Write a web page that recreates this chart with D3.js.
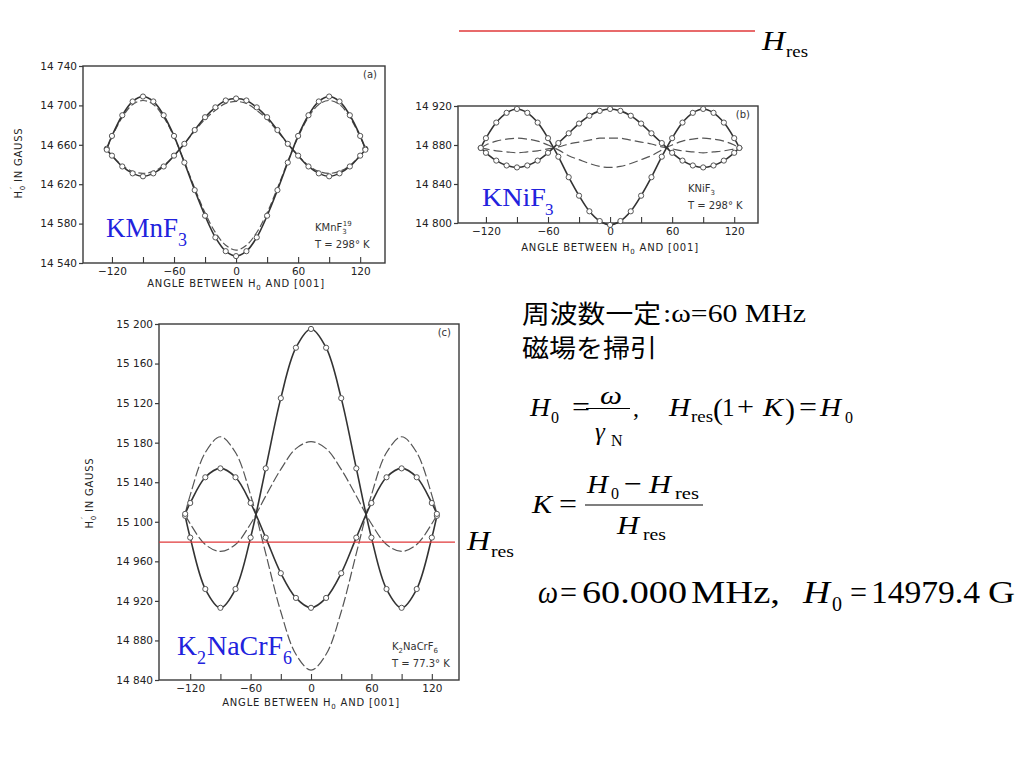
<!DOCTYPE html>
<html><head><meta charset="utf-8">
<script src="https://cdn.jsdelivr.net/npm/d3@7"></script>
<style>
html,body{margin:0;padding:0;background:#fff;}
svg{display:block;}
</style></head>
<body>
<svg id="c" width="1024" height="768"></svg>
<script>
// ---------- DATA ----------
const anglesAB = [-125,-120,-110,-100,-90,-80,-70,-60,-50,-40,-30,-20,-10,0,10,20,30,40,50,60,70,80,90,100,110,120,125];
const kmnSolidA = [14656,14669,14690,14704,14709,14704,14690,14669,14642,14614,14588,14566,14552,14547,14552,14566,14588,14614,14642,14669,14690,14704,14709,14704,14690,14669,14656];
const kmnSolidB = [14655,14649,14638,14631,14628,14631,14638,14649,14661,14675,14688,14698,14705,14707,14705,14698,14688,14675,14661,14649,14638,14631,14628,14631,14638,14649,14655];
const kmnDashA  = [14656,14668,14688,14701,14705,14701,14688,14668,14643,14616,14591,14571,14558,14553,14558,14571,14591,14616,14643,14668,14688,14701,14705,14701,14688,14668,14656];
const kmnDashB  = [14655,14649,14639,14633,14631,14633,14639,14649,14661,14674,14686,14695,14702,14704,14702,14695,14686,14674,14661,14649,14639,14633,14631,14633,14639,14649,14655];

const kniSolidA = [14877,14887,14903,14913,14917,14913,14903,14887,14868,14847,14828,14812,14802,14798,14802,14812,14828,14847,14868,14887,14903,14913,14917,14913,14903,14887,14877];
const kniSolidB = [14877,14872,14864,14859,14857,14859,14864,14872,14882,14892,14902,14910,14915,14917,14915,14910,14902,14892,14882,14872,14864,14859,14857,14859,14864,14872,14877];
const kniDashA  = [14877,14880,14884,14886,14887,14886,14884,14880,14875,14869,14865,14861,14858,14857,14858,14861,14865,14869,14875,14880,14884,14886,14887,14886,14884,14880,14877];
const kniDashB  = [14877,14876,14874,14873,14872,14873,14874,14876,14878,14881,14883,14885,14887,14887,14887,14885,14883,14881,14878,14876,14874,14873,14872,14873,14874,14876,14877];

const anglesC = [-125,-120,-105,-90,-75,-60,-45,-30,-15,0,15,30,45,60,75,90,105,120,125];
const crSolidA = [15006,14984,14932,14913,14932,14984,15054,15125,15176,15195,15176,15125,15054,14984,14932,14913,14932,14984,15006];
const crSolidB = [15008,15019,15045,15054,15045,15019,14984,14948,14923,14913,14923,14948,14984,15019,15045,15054,15045,15019,15008];
const crDashA  = [15008,15027,15070,15086,15070,15027,14968,14909,14866,14850,14866,14909,14968,15027,15070,15086,15070,15027,15008];
const crDashB  = [15007,14998,14977,14970,14977,14998,15026,15053,15074,15081,15074,15053,15026,14998,14977,14970,14977,14998,15007];

const xTickLabels = [-120,-60,0,60,120];
const xMinorTicks = [-120,-90,-60,-30,0,30,60,90,120];
const yTicksA = [14540,14580,14620,14660,14700,14740];
const yLabelsA = ["14 540","14 580","14 620","14 660","14 700","14 740"];
const yTicksB = [14800,14840,14880,14920];
const yLabelsB = ["14 800","14 840","14 880","14 920"];
const yTicksC = [14840,14880,14920,14960,15000,15040,15080,15120,15160,15200];
const yLabelsC = ["14 840","14 880","14 920","14 960","15 100","15 140","15 180","15 120","15 160","15 200"];
const H0value = 14979.4;

// ---------- DRAW ----------
const svg = d3.select("#c");
const ink = "#3a3a3a";
const sansF = "'DejaVu Sans', sans-serif";
const serifF = "'Liberation Serif','Times New Roman', serif";
const blue = "#2222dd";
const red = "#e0393a";

function panel(cfg){
  const x = d3.scaleLinear().domain(cfg.xd).range([cfg.l, cfg.r]);
  const y = d3.scaleLinear().domain(cfg.yd).range([cfg.b, cfg.t]);
  const g = svg.append("g");
  g.append("rect").attr("x",cfg.l).attr("y",cfg.t).attr("width",cfg.r-cfg.l).attr("height",cfg.b-cfg.t)
    .attr("fill","none").attr("stroke",ink).attr("stroke-width",1.4);
  const ya = d3.axisLeft(y).tickValues(cfg.yt).tickSize(4).tickPadding(2)
     .tickFormat((d,i)=>cfg.yl[i]);
  const yg = g.append("g").attr("transform",`translate(${cfg.l},0)`).call(ya);
  yg.select(".domain").remove();
  yg.selectAll("line").attr("stroke",ink).attr("stroke-width",1.2);
  yg.selectAll("text").attr("font-family",sansF).attr("font-size",10.5).attr("fill","#222");
  const xa = d3.axisTop(x).tickValues(xMinorTicks).tickSize(6).tickFormat("");
  const xg = g.append("g").attr("transform",`translate(0,${cfg.b})`).call(xa);
  xg.select(".domain").remove();
  xg.selectAll("line").attr("stroke",ink).attr("stroke-width",1.1);
  const xl = d3.axisBottom(x).tickValues(xTickLabels).tickSize(0).tickPadding(cfg.xpad)
     .tickFormat(d=> d<0 ? "\u2212"+(-d) : ""+d);
  const xlg = g.append("g").attr("transform",`translate(0,${cfg.b})`).call(xl);
  xlg.select(".domain").remove();
  xlg.selectAll("text").attr("font-family",sansF).attr("font-size",10.5).attr("fill","#222");
  const t = g.append("text").attr("x",x(0)).attr("y",cfg.titleY).attr("text-anchor","middle")
    .attr("font-family",sansF).attr("font-size",10).attr("fill","#222").attr("letter-spacing",0.8);
  t.append("tspan").text("ANGLE BETWEEN H");
  t.append("tspan").attr("font-size",7).attr("dy",3).text("0");
  t.append("tspan").attr("dy",-3).text(" AND [001]");
  if(cfg.ytx){
    const yt = g.append("text").attr("transform",`translate(${cfg.ytx},${cfg.yty}) rotate(-90)`)
      .attr("text-anchor","middle").attr("font-family",sansF).attr("font-size",10).attr("fill","#222").attr("letter-spacing",0.8);
    yt.append("tspan").text("H");
    yt.append("tspan").attr("font-size",7).attr("dy",3).text("0");
    yt.append("tspan").attr("font-size",9).attr("dy",-8).attr("dx",-4).text("\u2032");
    yt.append("tspan").attr("dy",5).text(" IN GAUSS");
  }
  const line = d3.line().x(d=>x(d[0])).y(d=>y(d[1])).curve(d3.curveCatmullRom.alpha(0.5));
  cfg.dashed.forEach(s=>{
    g.append("path").attr("d",line(cfg.angles.map((a,i)=>[a,s[i]])))
      .attr("fill","none").attr("stroke","#555").attr("stroke-width",1.2).attr("stroke-dasharray",cfg.dash);
  });
  cfg.solid.forEach(s=>{
    g.append("path").attr("d",line(cfg.angles.map((a,i)=>[a,s[i]])))
      .attr("fill","none").attr("stroke","#333").attr("stroke-width",1.6);
  });
  cfg.solid.forEach(s=>{
    g.selectAll(null).data(cfg.angles.map((a,i)=>[a,s[i]])).enter().append("circle")
      .attr("cx",d=>x(d[0])).attr("cy",d=>y(d[1])).attr("r",2.6)
      .attr("fill","#fff").attr("stroke","#555").attr("stroke-width",1);
  });
  g.append("text").attr("x",cfg.r-8).attr("y",cfg.t+12).attr("text-anchor","end")
    .attr("font-family",sansF).attr("font-size",10).attr("fill","#333").text(cfg.letter);
  const n1 = g.append("text").attr("x",cfg.nx).attr("y",cfg.ny).attr("font-family",sansF).attr("font-size",10).attr("fill","#333");
  cfg.note(n1);
  g.append("text").attr("x",cfg.nx).attr("y",cfg.ny+17).attr("font-family",sansF).attr("font-size",10).attr("fill","#333")
    .text(cfg.temp);
  return {x,y,g};
}

panel({l:83,r:385,t:66,b:263,xd:[-148,144],yd:[14540,14740],yt:yTicksA,yl:yLabelsA,xpad:5,titleY:287,
  ytx:22,yty:163,angles:anglesAB,solid:[kmnSolidA,kmnSolidB],dashed:[kmnDashA,kmnDashB],dash:"7,3",
  letter:"(a)",nx:315,ny:231,temp:"T = 298\u00b0 K",
  note:t=>{t.append("tspan").text("KMnF");t.append("tspan").attr("font-size",7).attr("dy",3).text("3");
           t.append("tspan").attr("font-size",7).attr("dy",-8).attr("dx",-4).text("19");}});
panel({l:458,r:758,t:106,b:223,xd:[-147,143],yd:[14800,14920],yt:yTicksB,yl:yLabelsB,xpad:5,titleY:251,
  ytx:null,angles:anglesAB,solid:[kniSolidA,kniSolidB],dashed:[kniDashA,kniDashB],dash:"9,4",
  letter:"(b)",nx:688,ny:192,temp:"T = 298\u00b0 K",
  note:t=>{t.append("tspan").text("KNiF");t.append("tspan").attr("font-size",7).attr("dy",3).text("3");}});
const pc = panel({l:159,r:459,t:324,b:680,xd:[-151,147],yd:[14840,15200],yt:yTicksC,yl:yLabelsC,xpad:5,titleY:706,
  ytx:93,yty:493,angles:anglesC,solid:[crSolidA,crSolidB],dashed:[crDashA,crDashB],dash:"10,3",
  letter:"(c)",nx:392,ny:650,temp:"T = 77.3\u00b0 K",
  note:t=>{t.append("tspan").text("K");t.append("tspan").attr("font-size",7).attr("dy",3).text("2");
           t.append("tspan").attr("dy",-3).text("NaCrF");t.append("tspan").attr("font-size",7).attr("dy",3).text("6");}});

svg.append("line").attr("x1",pc.x(-151)).attr("x2",pc.x(143)).attr("y1",pc.y(H0value)).attr("y2",pc.y(H0value))
  .attr("stroke",red).attr("stroke-width",1.3);
svg.append("line").attr("x1",459).attr("x2",755).attr("y1",31).attr("y2",31).attr("stroke",red).attr("stroke-width",1.3);

function T(x,y,s,size,opt){
  opt = opt||{};
  const t = svg.append("text").attr("x",x).attr("y",y).attr("font-family",opt.fam||serifF).attr("font-size",size)
    .attr("font-style",opt.it?"italic":"normal").attr("text-anchor",opt.anchor||"start").attr("fill",opt.fill||"#000").text(s);
  if(opt.w) t.attr("textLength",opt.w).attr("lengthAdjust","spacingAndGlyphs");
  return t;
}
// H_res labels
T(762,50,"H",28,{it:true,w:23}); T(786,57,"res",17,{w:22});
T(467,550,"H",28,{it:true,w:23}); T(491,557,"res",17,{w:23});

// blue compound labels
T(106,237,"KMnF",27,{fill:blue,w:72}); T(178,246,"3",18,{fill:blue});
T(482,206,"KNiF",26,{fill:blue,w:64}); T(545,215,"3",17,{fill:blue});
T(177,655,"K",28,{fill:blue,w:20}); T(197,664,"2",18,{fill:blue}); T(207,655,"NaCrF",28,{fill:blue,w:76}); T(283,664,"6",18,{fill:blue});

// right side text
const cjk = "'Noto Sans CJK JP', sans-serif";
T(522,323,"周波数一定",25,{fam:cjk,w:139});
T(663,322,":\u03c9=60 MHz",26,{w:143});
T(522,357,"磁場を掃引",25,{fam:cjk,w:135});

// H0 = ω/γN ,  Hres(1+K) = H0
T(530,416,"H",25,{it:true,w:20}); T(551,423,"0",16);
T(572,416,"=",28,{w:18});
T(600,404,"\u03c9",26,{it:true,w:22});
svg.append("line").attr("x1",586).attr("x2",630).attr("y1",408.5).attr("y2",408.5).attr("stroke","#000").attr("stroke-width",1.1);
T(595,440,"\u03b3",25,{it:true}); T(611,446,"N",16);
T(633,416,",",24);
T(669,416,"H",25,{it:true,w:21}); T(691,422,"res",16,{w:22});
T(713,419,"(",30); T(722,416,"1",25); T(737,416,"+",28,{w:17}); T(763,416,"K",25,{it:true,w:20}); T(785,419,")",30);
T(799,416,"=",28,{w:18}); T(820,416,"H",25,{it:true,w:21}); T(845,423,"0",16);
// K = (H0 - Hres)/Hres
T(532,513,"K",25,{it:true,w:20}); T(559,513,"=",28,{w:18});
T(587,493,"H",25,{it:true,w:21}); T(611,499,"0",16); T(624,493,"\u2212",28,{w:18}); T(649,493,"H",25,{it:true,w:22}); T(675,499,"res",16,{w:24});
svg.append("line").attr("x1",585).attr("x2",703).attr("y1",505).attr("y2",505).attr("stroke","#000").attr("stroke-width",1.1);
T(617,534,"H",25,{it:true,w:22}); T(643,540,"res",16,{w:23});
// ω = 60.000 MHz,  H0 = 14979.4 G
T(538,603,"\u03c9",31,{it:true,w:20}); T(560,603,"=",32,{w:17}); T(582,603,"60.000",31,{w:105}); T(691,603,"MHz,",31,{w:89});
T(803,603,"H",31,{it:true,w:27}); T(832,611,"0",20,{w:10}); T(850,603,"=",32,{w:17}); T(871,603,"14979.4",31,{w:109}); T(988,603,"G",31,{w:27});
</script>
</body></html>
